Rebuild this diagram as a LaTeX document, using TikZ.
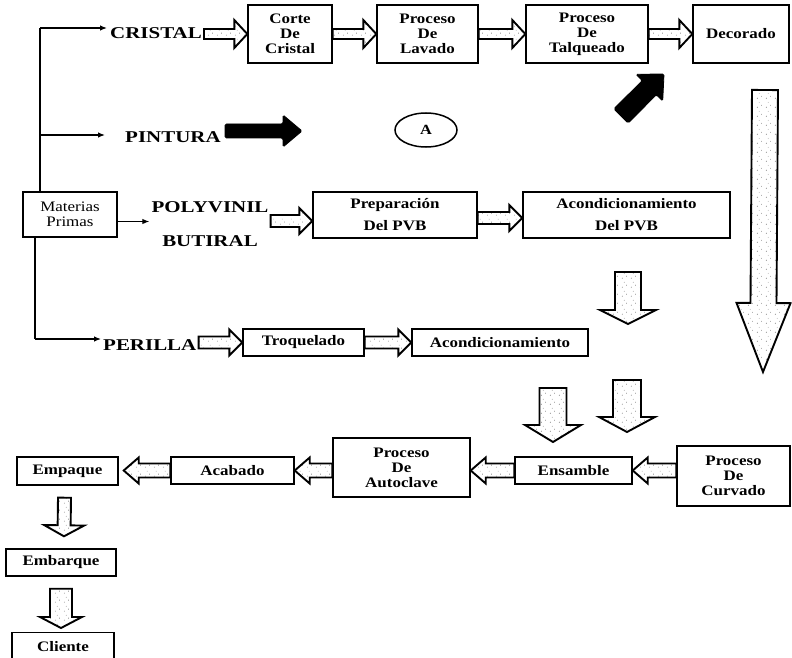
\documentclass[tikz,border=0pt]{standalone}
\usepackage{fontspec}
\setmainfont{Liberation Serif}
\newfontfamily\lblfont[FakeStretch=1.27]{Liberation Serif}
\newfontfamily\boxfont[FakeStretch=1.17]{Liberation Serif}
\usetikzlibrary{calc,patterns,shapes.geometric,arrows.meta}
\pgfdeclarepatternformonly{stipple}{\pgfqpoint{0pt}{0pt}}{\pgfqpoint{9pt}{9pt}}{\pgfqpoint{9pt}{9pt}}{%
 \pgfpathcircle{\pgfqpoint{1.5pt}{2pt}}{0.5pt}%
 \pgfpathcircle{\pgfqpoint{6pt}{4.2pt}}{0.45pt}%
 \pgfpathcircle{\pgfqpoint{3.5pt}{7.4pt}}{0.4pt}%
 \pgfusepath{fill}}
\tikzset{
 pbox/.style={draw, line width=1.4pt, inner sep=1pt, align=center,
   font=\boxfont\bfseries\fontsize{14.5}{15}\selectfont},
 lbl/.style={inner sep=2pt, font=\lblfont\bfseries\fontsize{16.5}{20}\selectfont},
 thinarrow/.style={line width=1.2pt, -{Latex[length=7pt,width=5.5pt]}},
 trunk/.style={line width=1.2pt},
 harrow/.style n args={3}{draw, line width=1.9pt, line join=miter,
   pattern=stipple, pattern color=black!60,
   to path={
     ($(\tikztostart)!#1!90:(\tikztotarget)$)
     -- ($(\tikztotarget)!#3!(\tikztostart)!#1!90:(\tikztotarget)$)
     -- ($(\tikztotarget)!#3!(\tikztostart)!#2!90:(\tikztotarget)$)
     -- (\tikztotarget)
     -- ($(\tikztotarget)!#3!(\tikztostart)!#2!-90:(\tikztotarget)$)
     -- ($(\tikztotarget)!#3!(\tikztostart)!#1!-90:(\tikztotarget)$)
     -- ($(\tikztostart)!#1!-90:(\tikztotarget)$)
     -- cycle}},
 solidarrow/.style={fill=black, draw=black, line width=0.8pt, rounded corners=1.5pt}
}
\begin{document}
\begin{tikzpicture}[x=1pt,y=-1pt]
\useasboundingbox (0,0) rectangle (792,658);
\clip (0,0) rectangle (792,658);

% ---------- top row ----------
\node[pbox, minimum width=84, minimum height=58] (corte) at (290,34) {Corte\\De\\Cristal};
\node[pbox, minimum width=101, minimum height=58] (lavado) at (427.5,34) {Proceso\\De\\Lavado};
\node[pbox, minimum width=122, minimum height=58] (talq) at (587,34) {Proceso\\De\\Talqueado};
\node[pbox, minimum width=96, minimum height=58] (decor) at (741,34) {Decorado};

% ---------- labels ----------
\node[lbl, anchor=west] (cristal) at (108,33) {CRISTAL};
\node[lbl, anchor=west] (pintura) at (123,137) {PINTURA};
\node[lbl, align=center, font=\lblfont\bfseries\fontsize{16.5}{34}\selectfont] (poly) at (210,224) {POLYVINIL\\BUTIRAL};
\node[lbl, anchor=west] (perilla) at (101,345) {PERILLA};

% ---------- materias primas ----------
\node[pbox, minimum width=94, minimum height=45, font=\boxfont\fontsize{14.5}{15}\selectfont] (materias) at (70,214.5) {Materias\\Primas};

% ---------- PVB row ----------
\node[pbox, minimum width=164, minimum height=46] (prep) at (395,215) {Preparación\\[7pt]Del PVB};
\node[pbox, minimum width=207, minimum height=46] (acpvb) at (626.5,215) {Acondicionamiento\\[7pt]Del PVB};

% ---------- perilla row ----------
\node[pbox, minimum width=121, minimum height=27] (troq) at (303.5,342.5) {Troquelado};
\node[pbox, minimum width=176, minimum height=27] (acond) at (500,342.5) {Acondicionamiento};

% ---------- bottom row ----------
\node[pbox, minimum width=113, minimum height=60] (curv) at (733.5,476) {Proceso\\De\\Curvado};
\node[pbox, minimum width=117, minimum height=27] (ensam) at (573.5,470.5) {Ensamble};
\node[pbox, minimum width=137, minimum height=59] (auto) at (401.5,467.5) {Proceso\\De\\Autoclave};
\node[pbox, minimum width=123, minimum height=27] (acab) at (232.5,470.5) {Acabado};
\node[pbox, minimum width=101, minimum height=28] (empaq) at (67.5,471) {Empaque};
\node[pbox, minimum width=110, minimum height=27] (embar) at (61,562.5) {Embarque};
\node[pbox, anchor=north, minimum width=102, text height=11pt, text depth=20pt, inner ysep=8pt] (cliente) at (63,632) {Cliente};

% ---------- circle A ----------
\node[draw, ellipse, line width=1.5pt, minimum width=62, minimum height=34, inner sep=0pt,
  font=\boxfont\bfseries\fontsize{14}{14}\selectfont] (A) at (426,130) {A};

% ---------- trunk lines ----------
\coordinate (t1) at (40,28);
\coordinate (t2) at (40,135);
\coordinate (t3) at (35,339);
\draw[trunk] (t1) -- (t1 |- materias.north);
\draw[trunk] (t3 |- materias.south) -- (t3);
\draw[thinarrow] (t1) -- ($(t1 -| cristal.west)+(-1,0)$);
\draw[thinarrow] (t2) -- ($(t2 -| pintura.west)+(-18,0)$);
\draw[thinarrow] (t3) -- (t3 -| perilla.west);
\draw[thinarrow] ([yshift=-7pt]materias.east) -- ([yshift=-7pt]materias.east -| poly.west);

% ---------- hollow connectors ----------
\draw[harrow={5pt}{14pt}{13pt}] (cristal.east |- corte.west) to (corte.west);
\draw[harrow={5pt}{14pt}{13pt}] (corte.east) to (lavado.west);
\draw[harrow={5pt}{14pt}{13pt}] (lavado.east) to (talq.west);
\draw[harrow={5pt}{14pt}{13pt}] (talq.east) to (decor.west);

\draw[harrow={6pt}{13pt}{13pt}] ([yshift=3pt]poly.east) to ([yshift=3pt]poly.east -| prep.west);
\draw[harrow={6pt}{13pt}{13pt}] ([yshift=-3pt]prep.east) to ([yshift=-3pt]prep.east -| acpvb.west);

\draw[harrow={6pt}{13pt}{13pt}] (perilla.east |- troq.west) to (troq.west);
\draw[harrow={6pt}{13pt}{13pt}] (troq.east) to (acond.west);

\draw[harrow={7pt}{13pt}{15pt}] (curv.west |- ensam.east) to (ensam.east);
\draw[harrow={7pt}{13pt}{15pt}] (ensam.west) to (ensam.west -| auto.east);
\draw[harrow={7pt}{13pt}{15pt}] (acab.east -| auto.west) to (acab.east);
\draw[harrow={7pt}{13pt}{15pt}] (acab.west) to ($(acab.west -| empaq.east)+(5,0)$);

\draw[harrow={6.5pt}{20pt}{11pt}] ($(empaq.south)+(-3,12)$) to ($(embar.north)+(3,-12)$);
\draw[harrow={11pt}{21pt}{11pt}] ($(embar.south)+(0,12)$) to ($(cliente.north)+(-2,-4)$);

% ---------- free hollow arrows ----------
\coordinate (d1s) at (628,272);
\coordinate (d1e) at (628,324);
\coordinate (d2s) at (553,388);
\coordinate (d2e) at (553,442);
\coordinate (d3s) at (627,380);
\coordinate (d3e) at (627,432);
\coordinate (bigs) at (765,90);
\coordinate (bige) at (763,372);
\draw[harrow={13pt}{28pt}{14pt}] (d1s) to (d1e);
\draw[harrow={13.5pt}{28pt}{17pt}] (d2s) to (d2e);
\draw[harrow={14pt}{28pt}{15pt}] (d3s) to (d3e);
\draw[harrow={13pt}{27pt}{69pt}] (bigs) to (bige);

% ---------- solid black arrows ----------
\fill[solidarrow] (225,124) -- (283,124) -- (283,115) -- (302,131) -- (283,147) -- (283,138) -- (225,138) -- cycle;
\fill[solidarrow] (613.9,108.9) -- (642.2,80.6) -- (635.9,74.3) -- (664,74) -- (662.7,101.1) -- (656.4,94.8) -- (628.1,123.1) -- cycle;
\end{tikzpicture}
\end{document}
